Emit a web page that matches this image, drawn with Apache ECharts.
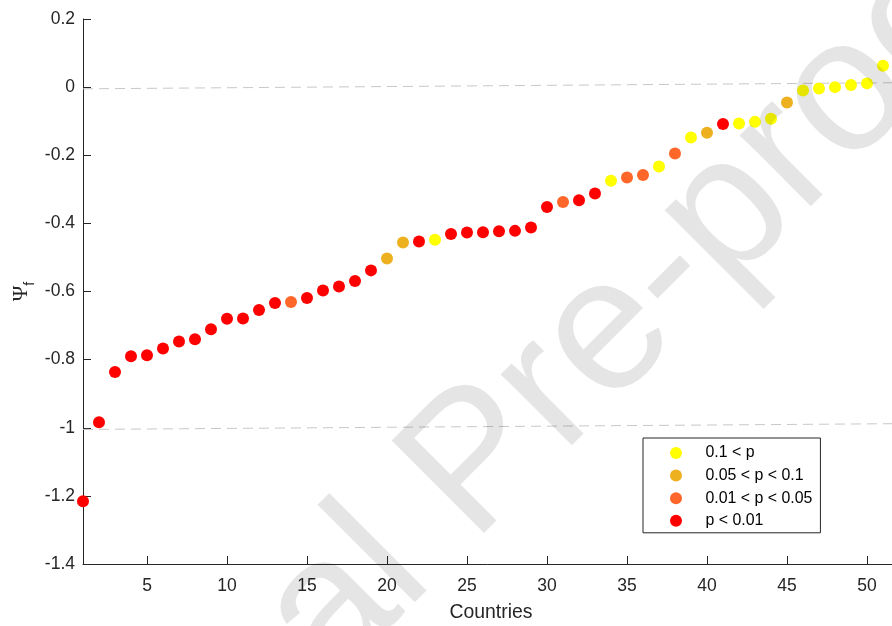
<!DOCTYPE html>
<html>
<head>
<meta charset="utf-8">
<script src="https://cdn.jsdelivr.net/npm/echarts@6/dist/echarts.min.js"></script>
<style>
html,body{margin:0;padding:0;background:#fff;}
#chart{width:892px;height:626px;}
</style>
</head>
<body>
<div id="chart"></div>
<script>
// ---- data ----
var countries = [1,2,3,4,5,6,7,8,9,10,11,12,13,14,15,16,17,18,19,20,21,22,23,24,25,26,27,28,29,30,31,32,33,34,35,36,37,38,39,40,41,42,43,44,45,46,47,48,49,50,51];
var psiValues = [-1.216,-0.984,-0.836,-0.790,-0.787,-0.767,-0.747,-0.740,-0.711,-0.680,-0.679,-0.654,-0.634,-0.631,-0.619,-0.597,-0.585,-0.569,-0.538,-0.503,-0.456,-0.453,-0.448,-0.431,-0.427,-0.426,-0.423,-0.422,-0.412,-0.352,-0.337,-0.332,-0.312,-0.275,-0.265,-0.258,-0.233,-0.195,-0.148,-0.134,-0.108,-0.107,-0.102,-0.093,-0.045,-0.010,-0.004,0.000,0.006,0.011,0.063];
// p-value class per country: 0 = 0.1<p, 1 = 0.05<p<0.1, 2 = 0.01<p<0.05, 3 = p<0.01
var pClass = [3,3,3,3,3,3,3,3,3,3,3,3,3,2,3,3,3,3,3,1,1,3,0,3,3,3,3,3,3,3,2,3,3,0,2,2,0,2,0,1,3,0,0,0,1,0,0,0,0,0,0];
var classNames = ['0.1 < p','0.05 < p < 0.1','0.01 < p < 0.05','p < 0.01'];
var classColors = ['#FFFF00','#EDB120','#FF6629','#FF0000'];
var refLineTop = [[1,-0.005],[52,0.013]];
var refLineBottom = [[1,-1.005],[52,-0.988]];
var xTicks = [5,10,15,20,25,30,35,40,45,50];
var yMin = -1.4, yMax = 0.2, yStep = 0.2;
var xMin = 1, xMax = 52;

var FONT = 'Liberation Sans, Arial, Helvetica, sans-serif';
var chart = echarts.init(document.getElementById('chart'), null, {renderer:'canvas'});

var series = [];
series.push({type:'line', data:refLineTop, symbol:'none', silent:true, z:1,
  lineStyle:{color:'#c8c8c8', width:1, type:[10,6]}});
series.push({type:'line', data:refLineBottom, symbol:'none', silent:true, z:1,
  lineStyle:{color:'#c8c8c8', width:1, type:[10,6]}});
for (var c = 0; c < classNames.length; c++) {
  var d = [];
  for (var i = 0; i < countries.length; i++) {
    if (pClass[i] === c) d.push([countries[i], psiValues[i]]);
  }
  series.push({type:'scatter', name:classNames[c], data:d, symbol:'circle', symbolSize:12,
    clip:false, itemStyle:{color:classColors[c], opacity:1}, z:3});
}

var option = {
  backgroundColor:'#fff',
  animation:false,
  grid:{left:83, top:19, width:816, height:545, containLabel:false, outerBoundsMode:'none'},
  xAxis:{type:'value', min:xMin, max:xMax,
    name:'Countries', nameLocation:'middle', nameGap:39,
    nameTextStyle:{color:'#262626', fontSize:19.4, fontFamily:FONT},
    axisLine:{show:true, onZero:false, lineStyle:{color:'#262626', width:1}},
    axisTick:{show:true, inside:true, length:8, customValues:xTicks, lineStyle:{color:'#262626', width:1}},
    axisLabel:{show:true, customValues:xTicks, margin:13, color:'#262626', fontSize:17.5, fontFamily:FONT},
    splitLine:{show:false}},
  yAxis:{type:'value', min:yMin, max:yMax, interval:yStep,
    name:'{a|Ψ}{b|f}', nameLocation:'middle', nameGap:51, nameRotate:90, nameMoveOverlap:false,
    nameTextStyle:{color:'#262626', rich:{
      a:{fontSize:21, lineHeight:21, fontFamily:'Liberation Serif, DejaVu Serif, serif', color:'#262626', verticalAlign:'top'},
      b:{fontSize:14, lineHeight:13, padding:[12,0,0,0], fontFamily:FONT, color:'#262626', verticalAlign:'top'}}},
    axisLine:{show:true, onZero:false, lineStyle:{color:'#262626', width:1}},
    axisTick:{show:true, inside:true, length:8, lineStyle:{color:'#262626', width:1}},
    axisLabel:{show:true, margin:8, color:'#262626', fontSize:17.5, fontFamily:FONT,
      formatter:function(v){ return String(Math.round(v*10)/10); }},
    splitLine:{show:false}},
  legend:{show:true, data:classNames, orient:'vertical', left:643, top:438,
    padding:[7,8,4,27], itemGap:6.6, itemWidth:49, itemHeight:12, icon:'circle',
    backgroundColor:'#fff', borderColor:'#262626', borderWidth:1,
    textStyle:{color:'#000', fontSize:15.9, fontFamily:FONT}},
  graphic:[{type:'text', x:477, y:466, rotation:Math.PI/4, z:100, silent:true,
    style:{text:'Journal Pre-proof', fontSize:190, fontFamily:FONT, fill:'rgba(0,0,0,0.1)',
      textAlign:'center', textVerticalAlign:'middle', verticalAlign:'middle'}}],
  series:series
};
chart.setOption(option);
</script>
</body>
</html>
